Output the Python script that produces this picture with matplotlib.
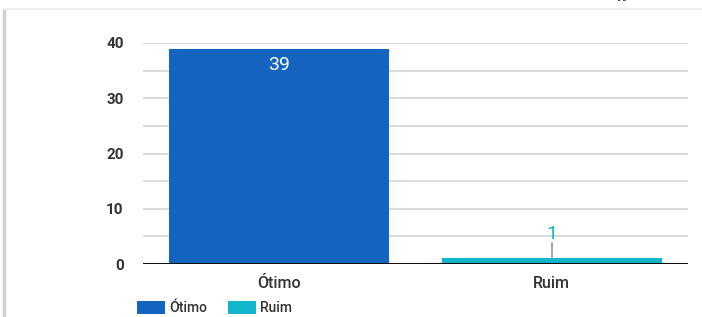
import matplotlib.pyplot as plt
from matplotlib.lines import Line2D
from matplotlib.patches import Patch

categories = ['Ótimo', 'Ruim']
values = [39, 1]
colors = ['#1565c0', '#12b5cb']
yticks = [0, 10, 20, 30, 40]

plt.rcParams['font.family'] = ['Roboto', 'DejaVu Sans']

W, H = 702, 317
fig = plt.figure(figsize=(W / 100, H / 100), dpi=100)
fig.patch.set_facecolor('white')

# card border (left edge and top shadow)
fig.add_artist(Line2D([4 / W, 4 / W], [0, 1 - 10 / H], transform=fig.transFigure,
                      color='#d0d0d0', lw=2.5))
fig.add_artist(Line2D([4 / W, 1], [1 - 9 / H, 1 - 9 / H], transform=fig.transFigure,
                      color='#eeeeee', lw=1.5))
# partly hidden number from the element above
fig.text(621 / W, 1 + 3 / H, '49', ha='center', va='center', fontsize=11,
         color='#444444', fontweight='bold')

ax = fig.add_axes([143 / W, 1 - 264 / H, (688 - 143) / W, (264 - 43) / H])
x = list(range(len(categories)))
ax.bar(x, values, width=0.807, color=colors, zorder=3)
ax.set_xlim(-0.5, 1.5)
ax.set_ylim(0, 40)

for y in range(5, 41, 5):
    ax.axhline(y, color='#d6d6d6', lw=1.2, zorder=1)
ax.axhline(0, color='#111111', lw=1.5, zorder=4)

for s in ax.spines.values():
    s.set_visible(False)
ax.set_yticks(yticks)
ax.set_yticklabels([str(t) for t in yticks], fontsize=11, color='#333333',
                   fontweight='bold')
ax.set_xticks(x)
ax.set_xticklabels(categories, fontsize=11.5, color='#333333', fontweight='medium')
ax.tick_params(axis='both', length=0)
ax.tick_params(axis='y', pad=14)
ax.tick_params(axis='x', pad=9)

# value labels
ax.text(x[0], values[0] - 1.4, str(values[0]), ha='center', va='top',
        fontsize=14, color='white', zorder=5)
ax.text(x[1], values[1] + 3.5, str(values[1]), ha='center', va='baseline',
        fontsize=14, color=colors[1], zorder=5)
ax.plot([x[1], x[1]], [values[1] + 0.1, values[1] + 2.8], color='#999999', lw=1.2,
        zorder=5)

handles = [Patch(facecolor=c) for c in colors]
fig.legend(handles, categories, loc='upper left', bbox_to_anchor=(137 / W, 1 - 301 / H),
           ncol=2, frameon=False, fontsize=10, handlelength=2.0, handleheight=1.1,
           handletextpad=0.3, columnspacing=1.5, borderpad=0, borderaxespad=0,
           labelcolor='#333333', prop={'weight': 'medium', 'size': 10})

fig.savefig('out.png', dpi=100, facecolor='white')
